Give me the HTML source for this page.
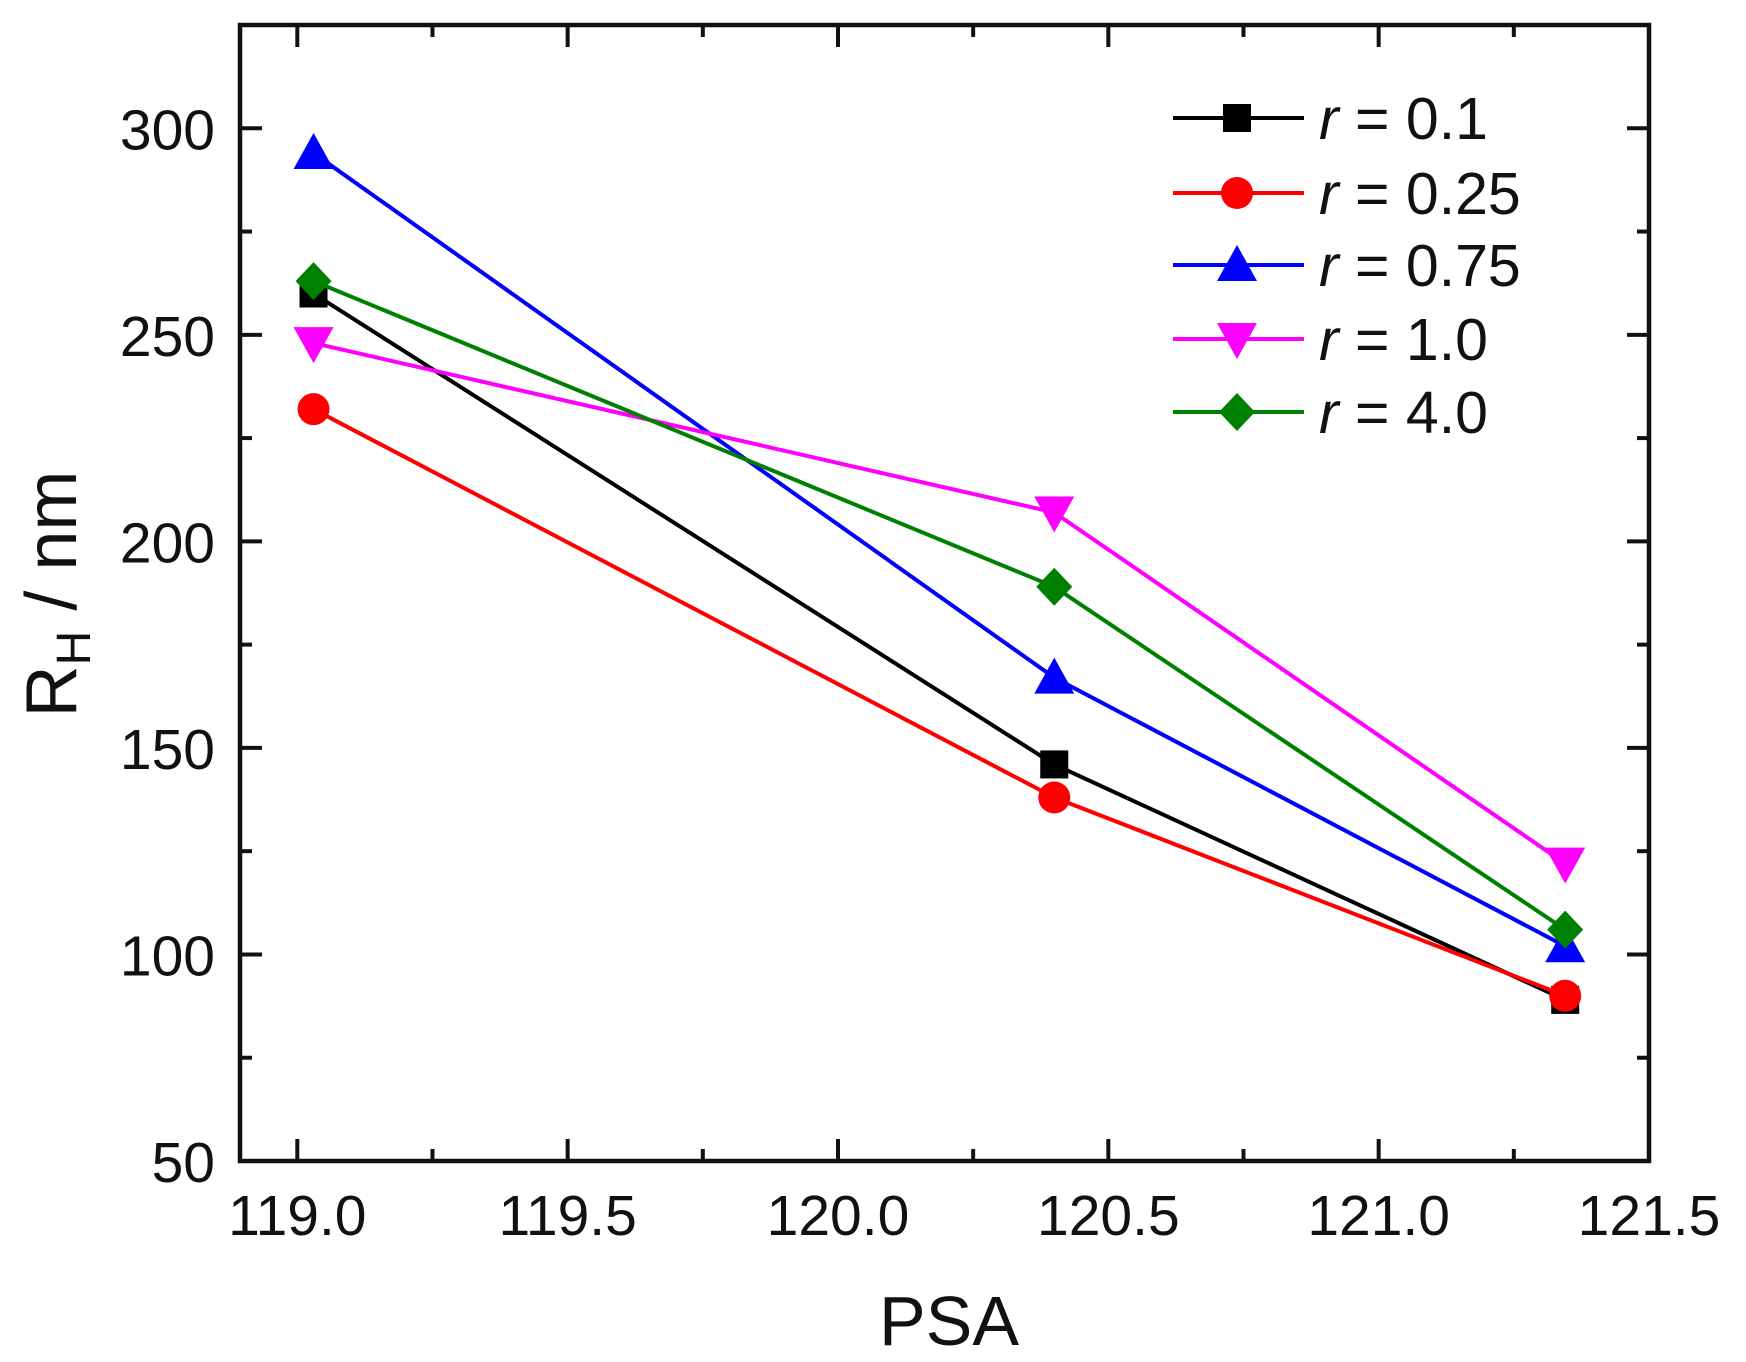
<!DOCTYPE html>
<html><head><meta charset="utf-8"><style>
html,body{margin:0;padding:0;background:#fff;}
svg{display:block;font-family:"Liberation Sans",Arial,sans-serif;}
</style></head><body>
<svg id="chart" width="1746" height="1362" viewBox="0 0 1746 1362"></svg>
<script>
const xValues = [119.03, 120.4, 121.345];
const seriesNames = ["0.1", "0.25", "0.75", "1.0", "4.0"];
const seriesBlack = [260, 146, 89];
const seriesRed = [232, 138, 90];
const seriesBlue = [294, 167, 102];
const seriesMagenta = [248, 207, 122];
const seriesGreen = [263, 189, 106];
const xTickLabels = ["119.0", "119.5", "120.0", "120.5", "121.0", "121.5"];
const yTickLabels = ["50", "100", "150", "200", "250", "300"];

const NS = "http://www.w3.org/2000/svg";
const svg = document.getElementById("chart");
const L = 240, R = 1649, T = 25, B = 1161;
const XMIN = 118.894, XMAX = 121.5, YMIN = 50, YMAX = 325;
function sx(v){ return L + (v - XMIN) / (XMAX - XMIN) * (R - L); }
function sy(v){ return B - (v - YMIN) / (YMAX - YMIN) * (B - T); }
function mk(tag, attrs, parent){
  const e = document.createElementNS(NS, tag);
  for (const k in attrs) e.setAttribute(k, attrs[k]);
  (parent || svg).appendChild(e);
  return e;
}

const ticks = mk("g", {});


for (let v = 119; v <= 121.5001; v += 0.25) {
  const major = Math.abs(v * 2 - Math.round(v * 2)) < 1e-6;
  const len = major ? 22 : 12;
  const x = sx(v);
  mk("line", {x1:x, x2:x, y1:B, y2:B - len, stroke:"#111", "stroke-width":4}, ticks);
  mk("line", {x1:x, x2:x, y1:T, y2:T + len, stroke:"#111", "stroke-width":4}, ticks);
}
for (let v = 50; v <= 325; v += 25) {
  const major = v % 50 === 0;
  const len = major ? 22 : 12;
  const y = sy(v);
  mk("line", {x1:L, x2:L + len, y1:y, y2:y, stroke:"#111", "stroke-width":4}, ticks);
  mk("line", {x1:R, x2:R - len, y1:y, y2:y, stroke:"#111", "stroke-width":4}, ticks);
}
const frame = mk("rect", {x:L, y:T, width:R - L, height:B - T, fill:"none", stroke:"#111", "stroke-width":4.5});



xTickLabels.forEach(function(s){
  const t = mk("text", {x:sx(parseFloat(s)), y:1235, "text-anchor":"middle", "font-size":57, fill:"#111"});
  
  
  t.textContent = s;
});
yTickLabels.forEach(function(s){
  const t = mk("text", {x:215, y:sy(parseFloat(s)) + 21, "text-anchor":"end", "font-size":57, fill:"#111"});
  
  
  t.textContent = s;
});

const xt = mk("text", {x:949, y:1345, "text-anchor":"middle", "font-size":70, fill:"#111"});


xt.textContent = "PSA";
const yt = mk("text", {x:0, y:0, "text-anchor":"middle", "font-size":72, fill:"#111", transform:"translate(76,594) rotate(-90)"});


yt.innerHTML = 'R<tspan font-size="48" dy="14">H</tspan><tspan dy="-14"> / nm</tspan>';

function marker(kind, x, y, color, parent){
  const s = 18;
  if (kind === "square") return mk("rect", {x:x - 14, y:y - 14, width:28, height:28, fill:color}, parent);
  if (kind === "circle") return mk("circle", {cx:x, cy:y, r:16, fill:color}, parent);
  if (kind === "up") return mk("polygon", {points:(x)+","+(y - s - 2)+" "+(x - s - 2)+","+(y + s - 2)+" "+(x + s + 2)+","+(y + s - 2), fill:color}, parent);
  if (kind === "down") return mk("polygon", {points:(x)+","+(y + s + 2)+" "+(x - s - 2)+","+(y - s + 2)+" "+(x + s + 2)+","+(y - s + 2), fill:color}, parent);
  return mk("polygon", {points:x+","+(y - 19)+" "+(x + 18)+","+y+" "+x+","+(y + 19)+" "+(x - 18)+","+y, fill:color}, parent);
}

const series = [
  {name:seriesNames[0], data:seriesBlack, color:"#000000", m:"square"},
  {name:seriesNames[1], data:seriesRed, color:"#ff0000", m:"circle"},
  {name:seriesNames[2], data:seriesBlue, color:"#0000ff", m:"up"},
  {name:seriesNames[3], data:seriesMagenta, color:"#ff00ff", m:"down"},
  {name:seriesNames[4], data:seriesGreen, color:"#008000", m:"diamond"}
];
series.forEach(function(s){
  const g = mk("g", {});
  
  
  const pts = s.data.map(function(v, i){ return sx(xValues[i]) + "," + sy(v); }).join(" ");
  const pl = mk("polyline", {points:pts, fill:"none", stroke:s.color, "stroke-width":4}, g);
  
  
  s.data.forEach(function(v, i){
    const m = marker(s.m, sx(xValues[i]), sy(v), s.color, g);
    
    
  });
});

const legend = mk("g", {});


const legY = [118, 193, 265, 339, 412];
series.forEach(function(s, i){
  const g = mk("g", {}, legend);
  
  
  const y = legY[i];
  mk("line", {x1:1173, x2:1304, y1:y, y2:y, stroke:s.color, "stroke-width":4}, g);
  marker(s.m, 1237, y, s.color, g);
  const t = mk("text", {x:1319, y:y + 21, "font-size":59, fill:"#111"}, g);
  t.innerHTML = '<tspan font-style="italic">r</tspan> = ' + s.name;
});
</script>
</body></html>
